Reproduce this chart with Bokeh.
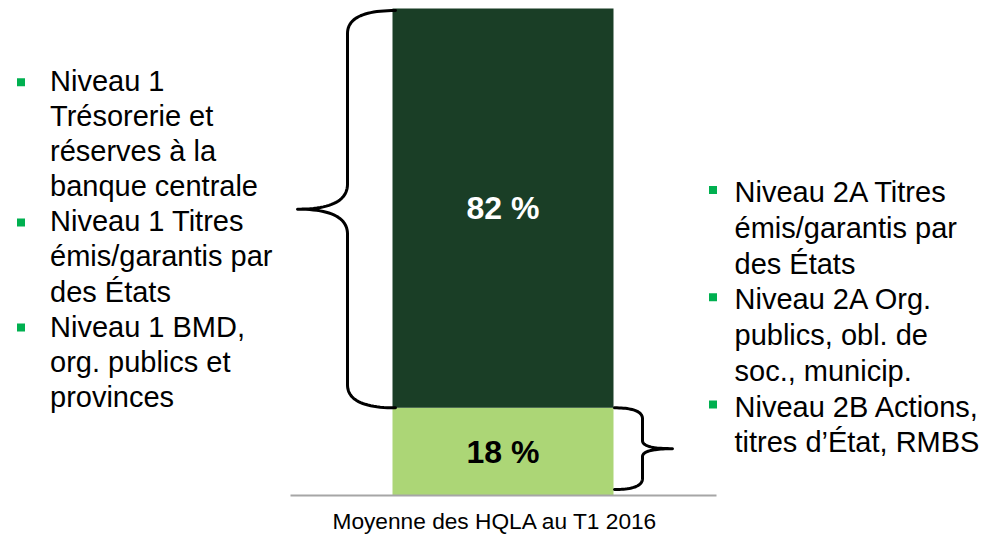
import numpy as np
from bokeh.plotting import figure
from bokeh.models import Range1d
from bokeh.core.properties import value
from bokeh.embed import file_html
from bokeh.resources import INLINE

# ---------------- data ----------------
category = "Moyenne des HQLA au T1 2016"
segments = ["Niveau 1", "Niveau 2"]
shares = [82, 18]
share_labels = ["82 %", "18 %"]

left_items = [
    ["Niveau 1", "Trésorerie et", "réserves à la", "banque centrale"],
    ["Niveau 1 Titres", "émis/garantis par", "des États"],
    ["Niveau 1 BMD,", "org. publics et", "provinces"],
]
right_items = [
    ["Niveau 2A Titres", "émis/garantis par", "des États"],
    ["Niveau 2A Org.", "publics, obl. de", "soc., municip."],
    ["Niveau 2B Actions,", "titres d\u2019État, RMBS"],
]

# ---------------- styles ----------------
seg_colors = ["#1a3e26", "#acd676"]
label_colors = ["#ffffff", "#000000"]
bullet_color = "#00b050"
FONT = value("Liberation Sans")

W, H = 988, 534
PX = 4.87  # pixels per percentage point
TOP = 8    # pixel row of the 100 % level

def X(ix):
    return ix

def Y(iy):
    return 100 - (iy - TOP) / PX

def img_y(v):
    return TOP + (100 - v) * PX

p = figure(width=W, height=H, x_range=Range1d(0, W),
           y_range=Range1d(100 - (H - TOP) / PX, 100 + TOP / PX),
           output_backend="svg", toolbar_location=None,
           min_border=0, min_border_left=0, min_border_right=0,
           min_border_top=0, min_border_bottom=0)
p.axis.visible = False
p.xgrid.visible = False
p.ygrid.visible = False
p.outline_line_color = None
p.background_fill_color = "white"
p.border_fill_color = "white"

# ---------------- stacked bar ----------------
bar_x = X(502.5)
bar_w = 221
order = [1, 0]  # bottom first
bottoms, tops = {}, {}
acc = 0
for i in order:
    bottoms[i] = acc
    acc += shares[i]
    tops[i] = acc

for i in order:
    p.vbar(x=[bar_x], width=bar_w, bottom=[bottoms[i]], top=[tops[i]],
           fill_color=seg_colors[i], line_color=None)
    p.text(x=[bar_x], y=[(bottoms[i] + tops[i]) / 2], text=[share_labels[i]],
           text_align="center", text_baseline="middle",
           text_font=FONT, text_font_size=value("32px"),
           text_font_style="bold", text_color=label_colors[i])

# baseline (category axis)
p.segment(x0=[X(290)], x1=[X(716)], y0=[0], y1=[0],
          line_color="#a6a6a6", line_width=2)
p.text(x=[X(494.7)], y=[Y(520)], text=[category],
       text_align="center", text_baseline="middle",
       text_font=FONT, text_font_size=value("22.7px"), text_color="#000000")

# ---------------- braces ----------------
def quad(p0, c, p1, n=24):
    t = np.linspace(0, 1, n)[:, None]
    p0, c, p1 = map(np.array, (p0, c, p1))
    return (1 - t) ** 2 * p0 + 2 * (1 - t) * t * c + t ** 2 * p1

def brace(x_end, x_spine, x_tip, y_top, y_bot, r_end, r_tip):
    mid = (y_top + y_bot) / 2
    pts = [
        quad((x_end, y_top), (x_spine, y_top), (x_spine, y_top + r_end)),
        quad((x_spine, mid - r_tip), (x_spine, mid), (x_tip, mid)),
        quad((x_tip, mid), (x_spine, mid), (x_spine, mid + r_tip)),
        quad((x_spine, y_bot - r_end), (x_spine, y_bot), (x_end, y_bot)),
    ]
    pts = np.vstack(pts)
    return [X(v) for v in pts[:, 0]], [Y(v) for v in pts[:, 1]]

top_seg, bot_seg = 0, 1
bx, by = brace(395, 347, 297, img_y(tops[top_seg]) + 2, img_y(bottoms[top_seg]), 23, 25)
p.line(bx, by, line_color="black", line_width=3, line_join="round", line_cap="round")
bx, by = brace(614, 642, 672, img_y(tops[bot_seg]), img_y(bottoms[bot_seg]) - 6, 11, 8)
p.line(bx, by, line_color="black", line_width=3, line_join="round", line_cap="round")

# ---------------- bullet lists ----------------
def bullet_list(items, text_x, bullet_x, first_mid, step, bullet_dy):
    xs, ys, txt = [], [], []
    bxs, bys = [], []
    k = 0
    for item in items:
        bxs.append(X(bullet_x))
        bys.append(Y(first_mid + k * step + bullet_dy))
        for line in item:
            xs.append(X(text_x))
            ys.append(Y(first_mid + k * step - 1))
            txt.append(line)
            k += 1
    p.text(x=xs, y=ys, text=txt, text_align="left", text_baseline="middle",
           text_font=FONT, text_font_size=value("29px"), text_color="#000000")
    p.scatter(x=bxs, y=bys, marker="square", size=8,
              fill_color=bullet_color, line_color=None)

bullet_list(left_items, 49.5, 20.5, 81.7, 35.05, 0)
bullet_list(right_items, 734, 712.5, 192.5, 35.75, -3)

open("out.html", "w").write(file_html(p, INLINE))
